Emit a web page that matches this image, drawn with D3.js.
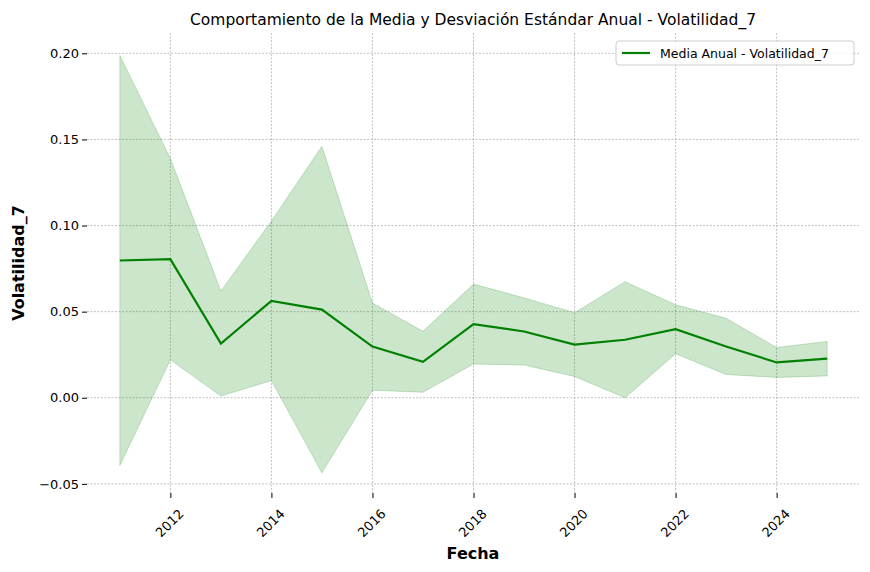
<!doctype html>
<html lang="en">
<head>
<meta charset="utf-8">
<title>Volatilidad_7</title>
<script src="https://cdn.jsdelivr.net/npm/d3@7"></script>
<style>
  body {margin:0; background:#fff; font-family:"DejaVu Sans", sans-serif;}
</style>
</head>
<body>
<svg id="chart" width="870" height="572"></svg>
<script>
// annual mean and standard deviation
var years = [2011,2012,2013,2014,2015,2016,2017,2018,2019,2020,2021,2022,2023,2024,2025];
var meanVals = [0.0797,0.0805,0.0315,0.0563,0.0512,0.0297,0.0209,0.0428,0.0385,0.0309,0.0337,0.0398,0.0298,0.0205,0.0227];
var stdVals = [0.1190,0.0585,0.0305,0.0463,0.0948,0.0253,0.0177,0.0232,0.0195,0.0185,0.0337,0.0142,0.0163,0.0087,0.0100];
var yTicks = [-0.05,0,0.05,0.10,0.15,0.20];
var xTicks = [2012,2014,2016,2018,2020,2022,2024];

var svg = d3.select("#chart");
var m = {left:87, right:10, top:33, bottom:79};
var w = 870 - m.left - m.right, h = 572 - m.top - m.bottom;

var x = d3.scaleLinear().domain([2010.35, 2025.65]).range([m.left, m.left + w]);
var y = d3.scaleLinear().domain([-0.0553, 0.2118]).range([m.top + h, m.top]);

var data = years.map(function(d, i) { return {year:d, mean:meanVals[i], std:stdVals[i]}; });

// grid
svg.append("g").selectAll("line").data(xTicks).enter().append("line")
  .attr("x1", function(d){return x(d);}).attr("x2", function(d){return x(d);})
  .attr("y1", m.top).attr("y2", m.top + h)
  .attr("stroke", "#999").attr("stroke-width", 0.6).attr("stroke-dasharray", "2,1.5");
svg.append("g").selectAll("line").data(yTicks).enter().append("line")
  .attr("y1", function(d){return y(d);}).attr("y2", function(d){return y(d);})
  .attr("x1", m.left).attr("x2", m.left + w)
  .attr("stroke", "#999").attr("stroke-width", 0.6).attr("stroke-dasharray", "2,1.5");

// band
svg.append("path").datum(data)
  .attr("d", d3.area().x(function(d){return x(d.year);})
    .y0(function(d){return y(d.mean - d.std);})
    .y1(function(d){return y(d.mean + d.std);}))
  .attr("fill", "green").attr("fill-opacity", 0.2)
  .attr("stroke", "green").attr("stroke-opacity", 0.2);

// mean line
svg.append("path").datum(data)
  .attr("d", d3.line().x(function(d){return x(d.year);}).y(function(d){return y(d.mean);}))
  .attr("fill", "none").attr("stroke", "green").attr("stroke-width", 2.2);

// axes
var yAxis = svg.append("g").attr("transform", "translate(" + m.left + ",0)")
  .call(d3.axisLeft(y).tickValues(yTicks).tickSize(5).tickFormat(function(d){
    return (d < 0 ? "\u2212" : "") + Math.abs(d).toFixed(2); }));
var xAxis = svg.append("g").attr("transform", "translate(0," + (m.top + h) + ")")
  .call(d3.axisBottom(x).tickValues(xTicks).tickSize(5).tickFormat(d3.format("d")));
[yAxis, xAxis].forEach(function(a){
  a.select(".domain").remove();
  a.selectAll("line").attr("stroke", "#000");
  a.selectAll("text").attr("font-size", 13).attr("fill", "#000").attr("font-family", "DejaVu Sans");
});
xAxis.selectAll("text").attr("text-anchor", "end").attr("dy", null).attr("dx", null)
  .attr("transform", "translate(8,16) rotate(-45)");

// labels
svg.append("text").attr("x", 473).attr("y", 25).attr("text-anchor", "middle")
  .attr("font-size", 15.5).text("Comportamiento de la Media y Desviación Estándar Anual - Volatilidad_7");
svg.append("text").attr("x", 473).attr("y", 559).attr("text-anchor", "middle")
  .attr("font-size", 16).attr("font-weight", "bold").text("Fecha");
svg.append("text").attr("transform", "translate(24," + (m.top + h / 2) + ") rotate(-90)")
  .attr("text-anchor", "middle").attr("font-size", 16).attr("font-weight", "bold").text("Volatilidad_7");

// legend
var lg = svg.append("g").attr("transform", "translate(616,41)");
lg.append("rect").attr("width", 238).attr("height", 24).attr("rx", 3)
  .attr("fill", "#fff").attr("fill-opacity", 0.8).attr("stroke", "#ccc");
lg.append("line").attr("x1", 6).attr("x2", 34).attr("y1", 12).attr("y2", 12)
  .attr("stroke", "green").attr("stroke-width", 2.2);
lg.append("text").attr("x", 44).attr("y", 16.5).attr("font-size", 12.5).text("Media Anual - Volatilidad_7");
</script>
</body>
</html>
